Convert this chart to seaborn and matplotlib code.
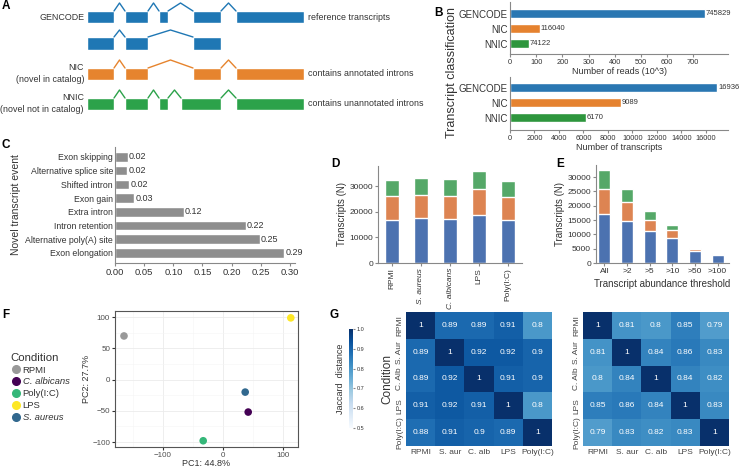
import numpy as np
import pandas as pd
import matplotlib
matplotlib.use('Agg')
import matplotlib.pyplot as plt
from matplotlib.lines import Line2D
from matplotlib.ticker import MultipleLocator
import seaborn as sns

# ---------------- data ----------------
# A: schematic gene models, exon (start, end) along the locus
gencode_exons = [(87, 114), (125, 148), (159, 168), (193, 221), (236, 304)]
gencode_alt_exons = [(87, 114), (125, 148), (193, 221)]
nic_exons = [(87, 114), (125, 148), (193, 221), (236, 304)]
nnic_exons = [(87, 114), (125, 148), (159, 168), (181, 221), (236, 304)]

# B: transcript classification
classes = ['GENCODE', 'NIC', 'NNIC']
n_reads = [745829, 116040, 74122]
n_transcripts = [16936, 9089, 6170]

# C: novel transcript events
events = ['Exon skipping', 'Alternative splice site', 'Shifted intron', 'Exon gain',
          'Extra intron', 'Intron retention', 'Alternative poly(A) site', 'Exon elongation']
event_frac = [0.022, 0.021, 0.024, 0.033, 0.118, 0.224, 0.248, 0.29]

# D: transcripts per condition
conditions = ['RPMI', 'S. aureus', 'C. albicans', 'LPS', 'Poly(I:C)']
d_gencode = [16936, 17600, 17200, 18900, 16950]
d_nic = [9089, 9000, 9000, 9900, 8750]
d_nnic = [6170, 6650, 6400, 7050, 6250]

# E: transcripts per abundance threshold
thresholds = ['All', '>2', '>5', '>10', '>50', '>100']
e_gencode = [17200, 14500, 11050, 8840, 4070, 2670]
e_nic = [8700, 6800, 4050, 2760, 700, 350]
e_nnic = [6400, 4600, 2900, 1800, 580, 350]

# F: PCA
pca_cond = ['RPMI', 'C. albicans', 'Poly(I:C)', 'LPS', 'S. aureus']
pc1 = [-165, 42, -33, 113, 37]
pc2 = [70, -52, -98, 99, -20]
pca_colors = ['#999999', '#440154', '#35b779', '#fde725', '#31688e']

# G: jaccard
hm_rows = ['RPMI', 'S. Aur', 'C. Alb', 'LPS', 'Poly(I:C)']
hm_cols = ['RPMI', 'S. aur', 'C. alb', 'LPS', 'Poly(I:C)']
jac_left = [[1, 0.89, 0.89, 0.91, 0.8],
            [0.89, 1, 0.92, 0.92, 0.9],
            [0.89, 0.92, 1, 0.91, 0.9],
            [0.91, 0.92, 0.91, 1, 0.8],
            [0.88, 0.91, 0.9, 0.89, 1]]
jac_right = [[1, 0.81, 0.8, 0.85, 0.79],
             [0.81, 1, 0.84, 0.86, 0.83],
             [0.8, 0.84, 1, 0.84, 0.82],
             [0.85, 0.86, 0.84, 1, 0.83],
             [0.79, 0.83, 0.82, 0.83, 1]]

# ---------------- style ----------------
sns.set_style('ticks')
plt.rcParams['font.family'] = ['Liberation Sans', 'DejaVu Sans']
plt.rcParams['axes.edgecolor'] = '#888888'
plt.rcParams['axes.linewidth'] = 0.8
plt.rcParams['xtick.color'] = '#888888'
plt.rcParams['ytick.color'] = '#888888'
plt.rcParams['xtick.labelcolor'] = '#333333'
plt.rcParams['ytick.labelcolor'] = '#333333'
plt.rcParams['xtick.major.size'] = 2
plt.rcParams['ytick.major.size'] = 2
plt.rcParams['xtick.major.pad'] = 1.5
plt.rcParams['ytick.major.pad'] = 1.5
plt.rcParams['axes.labelcolor'] = '#333333'
plt.rcParams['text.color'] = '#333333'

W, H = 742, 468
fig = plt.figure(figsize=(W / 100, H / 100), dpi=100)


def px_axes(x0, y0, x1, y1):
    return fig.add_axes([x0 / W, 1 - y1 / H, (x1 - x0) / W, (y1 - y0) / H])


def letter(x, y, s):
    fig.text(x / W, 1 - y / H, s, fontsize=8.5, fontweight='bold', color='black',
             ha='left', va='center')


blue, orange, green = '#1f77b4', '#e6842e', '#2ca24a'
b_colors = ['#2a77b2', '#e5822f', '#2e963d']
deep = sns.color_palette('deep')

# ---------------- A ----------------
axA = px_axes(0, 0, 370, 115)
axA.set_xlim(0, 370)
axA.set_ylim(115, 0)
axA.axis('off')
rows = [(gencode_exons, blue, 11, 12, 3),
        (gencode_alt_exons, blue, 37, 13, 30),
        (nic_exons, orange, 68, 12, 60),
        (nnic_exons, green, 98, 12, 90)]
for exons, col, top, h, peak in rows:
    axA.broken_barh([(s, e - s) for s, e in exons], (top, h), facecolors=col)
    for (s1, e1), (s2, e2) in zip(exons[:-1], exons[1:]):
        axA.plot([e1, (e1 + s2) / 2, s2], [top, peak, top], color=col, lw=1)
fsA = 6.4
axA.text(84, 18, 'GENCODE', ha='right', va='center', fontsize=fsA)
axA.text(84, 68, 'NIC', ha='right', va='center', fontsize=fsA)
axA.text(84, 79, '(novel in catalog)', ha='right', va='center', fontsize=fsA)
axA.text(84, 98, 'NNIC', ha='right', va='center', fontsize=fsA)
axA.text(84, 109, '(novel not in catalog)', ha='right', va='center', fontsize=fsA)
axA.text(308, 17, 'reference transcripts', ha='left', va='center', fontsize=fsA)
axA.text(308, 74, 'contains annotated introns', ha='left', va='center', fontsize=fsA)
axA.text(308, 104, 'contains unannotated introns', ha='left', va='center', fontsize=fsA)

# ---------------- B ----------------
axB1 = px_axes(510, 2, 728, 54)
sns.barplot(x=np.array(n_reads) / 1000, y=classes, hue=classes, palette=b_colors,
            width=0.6, saturation=1, legend=False, ax=axB1)
axB1.set_xlim(0, 833)
axB1.set_ylim(2.67, -0.8)
axB1.set_xticks(range(0, 800, 100))
for i, v in enumerate(n_reads):
    axB1.text(v / 1000 + 2, i, str(v), va='center', ha='left', fontsize=5.5)
axB1.set_xlabel('Number of reads (10^3)', fontsize=6.5, labelpad=1)
axB1.set_ylabel('')
axB1.tick_params(axis='x', labelsize=5.3)
axB1.tick_params(axis='y', labelsize=7, length=0)
sns.despine(ax=axB1)

axB2 = px_axes(510, 77, 728, 130)
sns.barplot(x=n_transcripts, y=classes, hue=classes, palette=b_colors,
            width=0.6, saturation=1, legend=False, ax=axB2)
axB2.set_xlim(0, 17800)
axB2.set_ylim(2.8, -0.73)
axB2.set_xticks(range(0, 17000, 2000))
for i, v in enumerate(n_transcripts):
    axB2.text(v + 50, i, str(v), va='center', ha='left', fontsize=5.5)
axB2.set_xlabel('Number of transcripts', fontsize=6.5, labelpad=1)
axB2.set_ylabel('')
axB2.tick_params(axis='x', labelsize=5.3)
axB2.tick_params(axis='y', labelsize=7, length=0)
sns.despine(ax=axB2)
fig.text(452 / W, 1 - 72 / H, 'Transcript classification', rotation=90,
         ha='center', va='center', fontsize=9)

# ---------------- C ----------------
axC = px_axes(115, 147, 295, 263)
sns.barplot(x=event_frac, y=events, color='#8e8e8e', width=0.7, saturation=1, ax=axC)
axC.set_xlim(0, 0.3086)
axC.set_ylim(7.74, -0.73)
axC.set_xticks(np.arange(0, 0.31, 0.05))
axC.set_xticklabels([f'{t:.2f}' for t in np.arange(0, 0.31, 0.05)])
for i, v in enumerate(event_frac):
    axC.text(v + 0.002, i, f'{v:.2f}', va='center', ha='left', fontsize=6.5)
axC.set_xlabel('')
axC.set_ylabel('Novel transcript event', fontsize=7.5, labelpad=3)
axC.tick_params(axis='x', labelsize=6.8)
axC.tick_params(axis='y', labelsize=6.3, length=0)
sns.despine(ax=axC)


# ---------------- D ----------------
def stacked(ax, cats, g, n, nn, width):
    g = np.array(g)
    n = np.array(n)
    nn = np.array(nn)
    sns.barplot(x=cats, y=g + n + nn, color=deep[2], width=width, saturation=1, ax=ax)
    sns.barplot(x=cats, y=g + n, color=deep[1], width=width, saturation=1, ax=ax)
    sns.barplot(x=cats, y=g, color=deep[0], width=width, saturation=1, ax=ax)
    sns.despine(ax=ax)


axD = px_axes(378, 166, 522, 263)
stacked(axD, conditions, d_gencode, d_nic, d_nnic, 0.5)
axD.set_xlim(-0.48, 4.48)
axD.set_ylim(0, 37800)
axD.set_yticks([0, 10000, 20000, 30000])
axD.set_ylabel('Transcripts (N)', fontsize=7, labelpad=2)
axD.tick_params(axis='y', labelsize=6)
axD.tick_params(axis='x', labelsize=6, rotation=90)
for lab in axD.get_xticklabels():
    if lab.get_text() in ('S. aureus', 'C. albicans'):
        lab.set_fontstyle('italic')

# ---------------- E ----------------
axE = px_axes(596, 165, 729, 263)
stacked(axE, thresholds, e_gencode, e_nic, e_nnic, 0.52)
axE.set_xlim(-0.37, 5.5)
axE.set_ylim(0, 34200)
axE.set_yticks(range(0, 30001, 5000))
axE.set_ylabel('Transcripts (N)', fontsize=7, labelpad=2)
axE.set_xlabel('Transcript abundance threshold', fontsize=7, labelpad=3)
axE.tick_params(axis='both', labelsize=6)

# ---------------- F ----------------
axF = px_axes(115, 311, 298, 447)
sns.scatterplot(x=pc1, y=pc2, hue=pca_cond, palette=dict(zip(pca_cond, pca_colors)),
                s=30, linewidth=0, legend=False, ax=axF, zorder=3)
axF.set_xlim(-180, 125)
axF.set_ylim(-108, 110)
axF.set_xticks([-100, 0, 100])
axF.set_yticks([-100, -50, 0, 50, 100])
axF.set_xticklabels(['\u2212100', '0', '100'])
axF.set_yticklabels(['\u2212100', '\u221250', '0', '50', '100'])
axF.xaxis.set_minor_locator(MultipleLocator(50))
axF.yaxis.set_minor_locator(MultipleLocator(25))
axF.grid(which='major', color='#ebebeb', lw=0.6)
axF.grid(which='minor', color='#f5f5f5', lw=0.4)
axF.tick_params(which='minor', length=0)
axF.tick_params(axis='both', labelsize=5.8, labelcolor='#4d4d4d', color='#333333')
for sp in axF.spines.values():
    sp.set_color('#555555')
axF.set_xlabel('PC1: 44.8%', fontsize=6.5, labelpad=0)
axF.set_ylabel('PC2: 27.7%', fontsize=6.5, labelpad=1)

handles = [Line2D([], [], marker='o', ls='', color=c, markersize=5.5) for c in pca_colors]
leg = fig.legend(handles, pca_cond, title='Condition', loc='upper left',
                 bbox_to_anchor=(7 / W, 1 - 349 / H), frameon=False, fontsize=6.8,
                 title_fontsize=8.2, handletextpad=0.25, labelspacing=0.3,
                 handlelength=1.0, borderaxespad=0, alignment='left')
for t in leg.get_texts():
    if t.get_text() in ('C. albicans', 'S. aureus'):
        t.set_fontstyle('italic')

# ---------------- G ----------------
cax = px_axes(349, 329, 353, 428)
axG1 = px_axes(406, 312, 552, 446)
axG2 = px_axes(583, 312, 729, 446)
dfL = pd.DataFrame(jac_left, index=hm_rows, columns=hm_cols)
dfR = pd.DataFrame(jac_right, index=hm_rows, columns=hm_cols)
sns.heatmap(dfL, ax=axG1, cmap='Blues', vmin=0.5, vmax=1.0, annot=True, fmt='g',
            annot_kws={'color': 'white', 'fontsize': 6}, cbar_ax=cax)
sns.heatmap(dfR, ax=axG2, cmap='Blues', vmin=0.5, vmax=1.0, annot=True, fmt='g',
            annot_kws={'color': 'white', 'fontsize': 6}, cbar=False)
for ax in (axG1, axG2):
    ax.tick_params(axis='both', length=0, labelsize=6, labelcolor='#444444', pad=2)
    ax.set_yticklabels(ax.get_yticklabels(), rotation=90, va='center')
    ax.set_xticklabels(ax.get_xticklabels(), rotation=0)
axG1.set_ylabel('Condition', fontsize=8.5, labelpad=2)
cax.tick_params(labelsize=4, length=1.5, pad=1)
cax.set_yticks([0.5, 0.6, 0.7, 0.8, 0.9, 1.0])
cax.yaxis.set_label_position('left')
cax.set_ylabel('Jaccard  distance', fontsize=6.5, labelpad=3)

letter(2, 6, 'A')
letter(434, 13, 'B')
letter(2, 145, 'C')
letter(331, 164, 'D')
letter(556, 164, 'E')
letter(2, 315, 'F')
letter(330, 315, 'G')

fig.savefig('out.png', dpi=100)
